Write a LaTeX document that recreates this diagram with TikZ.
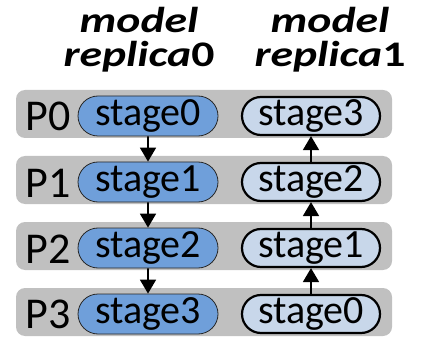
\documentclass[tikz,border=0pt]{standalone}
\usepackage{fontspec}
\setmainfont{Carlito}
\usetikzlibrary{arrows.meta,shapes.misc}
\definecolor{bargray}{HTML}{C0C0C0}
\definecolor{darkblue}{HTML}{6F9FDA}
\definecolor{lightblue}{HTML}{C8D7EA}
\begin{document}
\begin{tikzpicture}[x=1pt,y=-1pt,
  bar/.style={fill=bargray, rounded corners=9pt, draw=none, minimum width=376pt, minimum height=48pt, inner sep=0pt},
  dpill/.style={rounded rectangle, fill=darkblue, draw=black!85, line width=0.8pt, minimum width=140pt, minimum height=40pt, inner sep=0pt, font=\fontsize{40}{40}\selectfont},
  lpill/.style={rounded rectangle, fill=lightblue, draw=black, line width=2.2pt, minimum width=138pt, minimum height=38pt, inner sep=0pt, font=\fontsize{40}{40}\selectfont},
  plabel/.style={anchor=base, inner sep=0pt, font=\fontsize{44}{44}\selectfont},
  title/.style={align=center, inner sep=0pt, xscale=1.27, transform shape, font=\fontsize{36}{34}\selectfont\bfseries\itshape},
  flow/.style={line width=1.8pt, -{Triangle[width=16pt,length=14pt]}}]
\useasboundingbox (0,0) rectangle (436,339);
\node[title] (t0) at (139,40) {model\\replica\textup{0}};
\node[title] (t1) at (330,40) {model\\replica\textup{1}};
\node[bar] (b0) at (204,114) {};
\node[bar] (b1) at (204,180) {};
\node[bar] (b2) at (204,246) {};
\node[bar] (b3) at (204,312) {};
\node[plabel] (p0) at (48.5,131) {P0};
\node[plabel] (p1) at (48.5,197) {P1};
\node[plabel] (p2) at (48.5,263) {P2};
\node[plabel] (p3) at (48.5,328) {P3};
\node[dpill] (a0) at (148,116) {stage0};
\node[dpill] (a1) at (148,182) {stage1};
\node[dpill] (a2) at (148,248) {stage2};
\node[dpill] (a3) at (148,314) {stage3};
\node[lpill] (c0) at (311,116) {stage3};
\node[lpill] (c1) at (311,182) {stage2};
\node[lpill] (c2) at (311,248) {stage1};
\node[lpill] (c3) at (311,314) {stage0};
\draw[flow] (a0) -- (a1);
\draw[flow] (a1) -- (a2);
\draw[flow] (a2) -- (a3);
\draw[flow] (c3) -- (c2);
\draw[flow] (c2) -- (c1);
\draw[flow] (c1) -- (c0);
\end{tikzpicture}
\end{document}
